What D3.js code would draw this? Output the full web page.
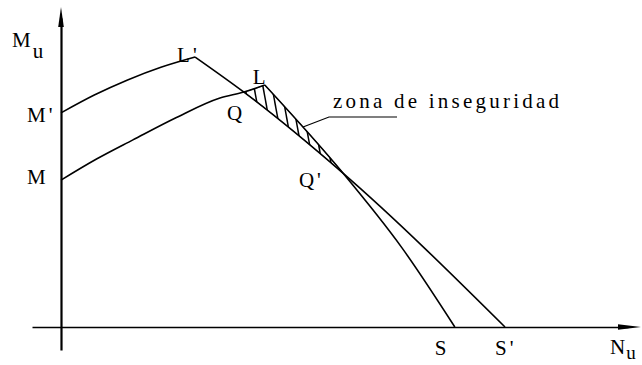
<!DOCTYPE html>
<html><head><meta charset="utf-8">
<script src="https://cdn.jsdelivr.net/npm/d3@7"></script>
<style>html,body{margin:0;padding:0;background:#fff;} svg{display:block;}</style>
</head><body>
<svg id="chart" width="642" height="365"></svg>
<script>
// ---- data (abstract units: N = axial force, M = moment) ----
const upperArcN  = [0, 7.5, 15, 22.5, 30.2];
const upperArcM  = [79.3, 85.9, 91.5, 96.2, 100];
const upperLineN = [30.2, 41.2, 63.5, 100];
const upperLineM = [100, 87.0, 57.0, 0];
const lowerArcN  = [0, 8, 16.2, 26, 35.8, 41.2, 45.9];
const lowerArcM  = [54.4, 62.2, 69.3, 77.6, 84.8, 87.0, 89.6];
const lowerDescN = [45.9, 63.5, 76.8, 88.7];
const lowerDescM = [89.6, 57.0, 29.3, 0];
const pointNames = ["M", "M'", "L'", "Q", "L", "Q'", "S", "S'"];
const pointN     = [0, 0, 30.2, 41.2, 45.9, 63.5, 88.7, 100];
const pointM     = [54.4, 79.3, 100, 87.0, 89.6, 57.0, 0, 0];
const yAxisTitle = ["M", "u"];
const xAxisTitle = ["N", "u"];
const zoneLabel  = "zona de inseguridad";

// ---- layout ----
const svg = d3.select("#chart");
const x = d3.scaleLinear().domain([0, 100]).range([61, 505]);
const y = d3.scaleLinear().domain([0, 100]).range([327, 57]);
const FONT = "'Liberation Serif', 'DejaVu Serif', serif";
const zip = (a, b) => a.map((v, i) => [v, b[i]]);

// axes (no ticks)
const xAxisScale = d3.scaleLinear().domain([x.invert(32), x.invert(628)]).range([32, 628]);
const yAxisScale = d3.scaleLinear().domain([y.invert(350), y.invert(18)]).range([350, 18]);
const gx = svg.append("g").attr("transform", `translate(0,${y(0)})`)
  .call(d3.axisBottom(xAxisScale).tickValues([]).tickSizeOuter(0));
const gy = svg.append("g").attr("transform", `translate(${x(0)},0)`)
  .call(d3.axisLeft(yAxisScale).tickValues([]).tickSizeOuter(0));
svg.selectAll(".domain").attr("stroke", "#000").attr("stroke-width", 1.7);
gy.select(".domain").attr("stroke-width", 2.2);
// arrow heads
const x0 = x(0), y0 = y(0);
svg.append("path").attr("d", `M641,${y0} L618,${y0 - 2.8} L618,${y0 + 2.8} Z`).attr("fill", "#000");
svg.append("path").attr("d", `M${x0},7 L${x0 - 2.8},27 L${x0 + 2.8},27 Z`).attr("fill", "#000");

// curves
const line = d3.line().x(d => x(d[0])).y(d => y(d[1])).curve(d3.curveMonotoneX);
const curveG = svg.append("g").attr("fill", "none").attr("stroke", "#000")
  .attr("stroke-width", 1.6).attr("stroke-linejoin", "miter");
const upArc  = curveG.append("path").attr("d", line(zip(upperArcN, upperArcM)));
const upLine = curveG.append("path").attr("d", line(zip(upperLineN, upperLineM)));
const loArc  = curveG.append("path").attr("d", line(zip(lowerArcN, lowerArcM)));
const loDesc = curveG.append("path").attr("d", line(zip(lowerDescN, lowerDescM)));

// hatched zone Q - L - Q'
function sample(node, n) {
  const L = node.getTotalLength();
  return d3.range(n + 1).map(i => { const p = node.getPointAtLength(L * i / n); return [p.x, p.y]; });
}
const xQ = x(pointN[3]), xQp = x(pointN[5]);
const poly = []
  .concat(sample(loArc.node(), 400).filter(p => p[0] >= xQ))
  .concat(sample(loDesc.node(), 400).filter(p => p[0] <= xQp))
  .concat(sample(upLine.node(), 400).filter(p => p[0] >= xQ && p[0] <= xQp).reverse());
svg.append("clipPath").attr("id", "zone").append("path")
  .attr("d", "M" + poly.map(p => p.join(",")).join("L") + "Z");
const hatch = svg.append("g").attr("clip-path", "url(#zone)").attr("stroke", "#000").attr("stroke-width", 1.5);
d3.range(xQ - 20, xQp + 20, 9).forEach(xs => {
  hatch.append("line").attr("x1", xs).attr("y1", 70).attr("x2", xs + 22).attr("y2", 190);
});
svg.append("path").attr("d", "M" + poly.map(p => p.join(",")).join("L") + "Z")
  .attr("fill", "none").attr("stroke", "#000").attr("stroke-width", 0.6);

// point labels (offsets relative to the point)
const labelOffsets = {
  "M": [-34, 4], "M'": [-34, 9], "L'": [-18, 5], "Q": [-17, 28],
  "L": [-12, -1], "Q'": [-44, 14], "S": [-20, 28], "S'": [-10, 28]
};
const labels = svg.append("g").attr("font-family", FONT).attr("font-size", 21).attr("fill", "#000");
pointNames.forEach((name, i) => {
  const [dx, dy] = labelOffsets[name];
  const t = labels.append("text").attr("x", x(pointN[i]) + dx).attr("y", y(pointM[i]) + dy);
  const base = name.replace("'", "");
  t.append("tspan").text(base);
  if (name.includes("'")) t.append("tspan").attr("dx", 3).text("'");
});

// axis titles
const ty = labels.append("text").attr("x", 12).attr("y", 47);
ty.append("tspan").text(yAxisTitle[0]);
ty.append("tspan").attr("dx", 2).attr("dy", 11).text(yAxisTitle[1]);
const tx = labels.append("text").attr("x", 610).attr("y", 354);
tx.append("tspan").text(xAxisTitle[0]);
tx.append("tspan").attr("dx", 1).attr("dy", 5).attr("font-size", 19).text(xAxisTitle[1]);

// annotation
svg.append("path").attr("d", "M303,127 L329,117 L397,117").attr("fill", "none")
  .attr("stroke", "#000").attr("stroke-width", 1.2);
labels.append("text").attr("x", 333).attr("y", 108)
  .attr("textLength", 226).attr("lengthAdjust", "spacing").text(zoneLabel);
</script>
</body></html>
